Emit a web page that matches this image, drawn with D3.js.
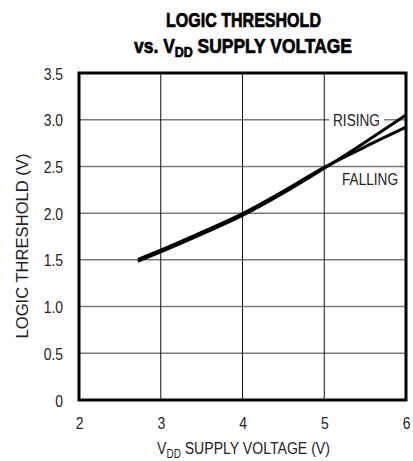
<!DOCTYPE html>
<html>
<head>
<meta charset="utf-8">
<script src="https://cdn.jsdelivr.net/npm/d3@7"></script>
<style>
  body { margin: 0; background: #fff; }
  svg text { font-family: "Liberation Sans", Arial, sans-serif; fill: #222; }
</style>
</head>
<body>
<svg id="chart" width="413" height="461"></svg>
<script>
// supply voltage (V) where each curve was sampled
let vddValues = [2.72, 3.0, 3.5, 4.0, 4.5, 5.0, 5.5, 6.0];
// logic threshold (V)
let risingValues = [1.485, 1.585, 1.775, 1.975, 2.215, 2.48, 2.76, 3.05];
let fallingValues = [1.505, 1.605, 1.795, 1.995, 2.235, 2.49, 2.71, 2.92];

let xTicks = [2, 3, 4, 5, 6];
let yTicks = [0, 0.5, 1.0, 1.5, 2.0, 2.5, 3.0, 3.5];

// a text squeezed horizontally so that it spans `w` pixels, like condensed type
var narrowText = function(parent, cx, cy, w, anchor, rot){
  let g = parent.append("g");
  let t = g.append("text").attr("text-anchor", anchor || "middle");
  t.fit = function(){
    let bw = t.node().getBBox().width;
    g.attr("transform", "translate(" + cx + "," + cy + ")" + (rot ? " rotate(" + rot + ")" : "") + " scale(" + (w / bw) + ",1)");
    return t;
  };
  return t;
};

var drawChart = function(){
  let svg = d3.select("#chart");
  let margin = { top: 73, right: 7, bottom: 61, left: 79 };
  let width = 413, height = 461;

  let x = d3.scaleLinear().domain([2, 6]).range([margin.left, width - margin.right]);
  let y = d3.scaleLinear().domain([0, 3.5]).range([height - margin.bottom, margin.top]);

  // title (heavy condensed face, so a thin stroke thickens it)
  narrowText(svg, 243.5, 27, 155).attr("font-weight", "bold").attr("font-size", 21)
    .style("fill", "#000").attr("stroke", "#000").attr("stroke-width", 0.7)
    .text("LOGIC THRESHOLD").fit();
  let t2 = narrowText(svg, 243, 53, 218).attr("font-weight", "bold").attr("font-size", 21)
    .style("fill", "#000").attr("stroke", "#000").attr("stroke-width", 0.7);
  t2.append("tspan").text("vs. V");
  t2.append("tspan").attr("font-size", 15).attr("dy", 4).text("DD");
  t2.append("tspan").attr("dy", -4).text(" SUPPLY VOLTAGE");
  t2.fit();

  // horizontal grid (gray)
  svg.append("g")
    .selectAll("line")
    .data(yTicks.slice(1, -1))
    .enter().append("line")
      .attr("x1", x(2)).attr("x2", x(6))
      .attr("y1", d => y(d)).attr("y2", d => y(d))
      .attr("stroke", "#7a7a7a")
      .attr("stroke-width", 1.5);

  // vertical grid (black)
  svg.append("g")
    .selectAll("line")
    .data(xTicks.slice(1, -1))
    .enter().append("line")
      .attr("x1", d => x(d)).attr("x2", d => x(d))
      .attr("y1", y(0)).attr("y2", y(3.5))
      .attr("stroke", "#111")
      .attr("stroke-width", 1);

  // RISING label sits on the 3.0 gridline with a white box
  svg.append("rect")
    .attr("x", 329).attr("y", y(3.0) - 10)
    .attr("width", 55).attr("height", 20)
    .attr("fill", "#fff");
  narrowText(svg, 333, y(3.0) + 6, 47, "start").attr("font-size", 17).text("RISING").fit();
  narrowText(svg, 342, 185, 56, "start").attr("font-size", 17).text("FALLING").fit();

  let line = d3.line()
    .x((d, i) => x(vddValues[i]))
    .y(d => y(d))
    .curve(d3.curveMonotoneX);

  [risingValues, fallingValues].forEach(function(series){
    svg.append("path")
      .datum(series)
      .attr("d", line)
      .attr("fill", "none")
      .attr("stroke", "#000")
      .attr("stroke-width", 3);
  });

  // frame
  svg.append("rect")
    .attr("x", x(2)).attr("y", y(3.5))
    .attr("width", x(6) - x(2)).attr("height", y(0) - y(3.5))
    .attr("fill", "none")
    .attr("stroke", "#000")
    .attr("stroke-width", 3);

  // axes
  let xAxis = d3.axisBottom(x).tickValues(xTicks).tickSize(0).tickPadding(0).tickFormat(d3.format("d"));
  let xGroup = svg.append("g").attr("transform", "translate(0," + 429 + ")").call(xAxis);
  xGroup.select(".domain").remove();
  xGroup.selectAll("text").attr("font-size", 17).attr("font-family", null).attr("dy", 0).style("fill", "#222")
    .attr("transform", "scale(0.82,1)");

  let yAxis = d3.axisLeft(y).tickValues(yTicks).tickSize(0).tickPadding(0)
    .tickFormat(d => d === 0 ? "0" : d3.format(".1f")(d));
  let yGroup = svg.append("g").attr("transform", "translate(" + 63 + ",0)").call(yAxis);
  yGroup.select(".domain").remove();
  yGroup.selectAll("text").attr("font-size", 17).attr("font-family", null).attr("dy", "0.36em").style("fill", "#222")
    .attr("transform", "scale(0.82,1)");

  // axis titles
  let xt = narrowText(svg, 243.5, 454, 173).attr("font-size", 17);
  xt.append("tspan").text("V");
  xt.append("tspan").attr("font-size", 12).attr("dy", 4).text("DD");
  xt.append("tspan").attr("dy", -4).text(" SUPPLY VOLTAGE (V)");
  xt.fit();

  narrowText(svg, 28, 246, 185, "middle", -90).attr("font-size", 17).text("LOGIC THRESHOLD (V)").fit();
};
drawChart();
</script>
</body>
</html>
